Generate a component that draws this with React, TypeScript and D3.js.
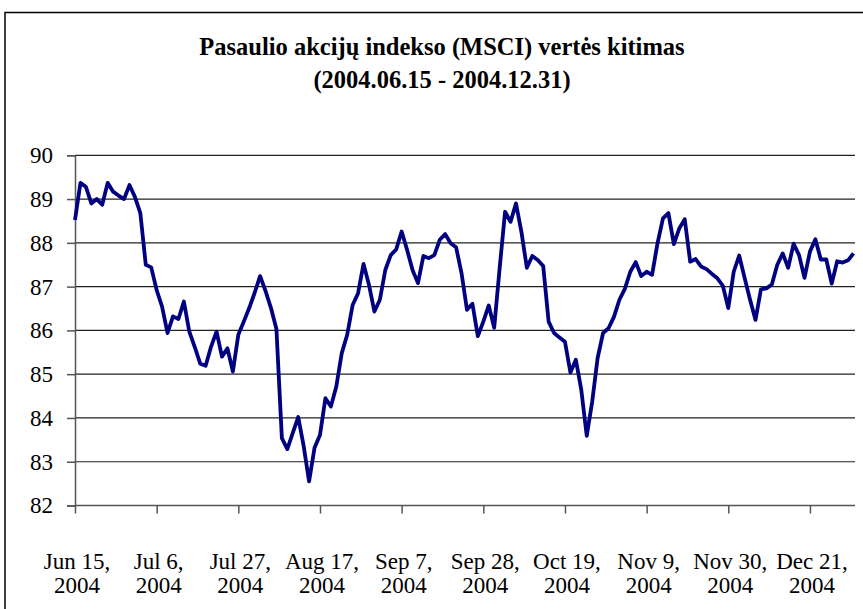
import React, { useRef, useEffect } from "react";
import * as d3 from "d3";

// chart title (two lines)
const titleLines = ["Pasaulio akcijų indekso (MSCI) vertės kitimas", "(2004.06.15 - 2004.12.31)"];

// x axis: one label every 15 trading days, starting at index 0
const tickDates = ["Jun 15,", "Jul 6,", "Jul 27,", "Aug 17,", "Sep 7,", "Sep 28,", "Oct 19,", "Nov 9,", "Nov 30,", "Dec 21,"];
const tickYear = "2004";
const tickStep = 15;

const yTicks = [82, 83, 84, 85, 86, 87, 88, 89, 90];

// daily MSCI index value, 2004-06-15 .. 2004-12-31 (weekdays)
const msciValues = [
  88.52, 89.37, 89.28, 88.90, 89.00, 88.87, 89.37, 89.17, 89.08, 89.00,
  89.32, 89.05, 88.68, 87.50, 87.44, 86.92, 86.54, 85.94, 86.32, 86.26,
  86.66, 85.97, 85.62, 85.24, 85.19, 85.63, 85.97, 85.40, 85.59, 85.06,
  85.90, 86.20, 86.51, 86.86, 87.24, 86.90, 86.51, 86.03, 83.54, 83.29,
  83.66, 84.02, 83.36, 82.55, 83.32, 83.61, 84.45, 84.26, 84.72, 85.48,
  85.90, 86.58, 86.85, 87.52, 87.04, 86.43, 86.70, 87.38, 87.72, 87.85,
  88.26, 87.84, 87.38, 87.08, 87.70, 87.65, 87.72, 88.07, 88.20, 87.99,
  87.90, 87.31, 86.47, 86.61, 85.87, 86.20, 86.57, 86.06, 87.42, 88.71,
  88.48, 88.90, 88.25, 87.43, 87.70, 87.61, 87.47, 86.20, 85.94, 85.84,
  85.74, 85.04, 85.33, 84.64, 83.59, 84.37, 85.37, 85.94, 86.05, 86.31,
  86.70, 86.95, 87.34, 87.56, 87.24, 87.34, 87.27, 87.99, 88.56, 88.68,
  87.97, 88.33, 88.54, 87.57, 87.63, 87.46, 87.40, 87.29, 87.19, 87.02,
  86.51, 87.34, 87.71, 87.20, 86.70, 86.24, 86.94, 86.96, 87.05, 87.50,
  87.76, 87.43, 87.98, 87.72, 87.20, 87.80, 88.08, 87.62, 87.62, 87.07,
  87.58, 87.55, 87.60, 87.76,
];

const width = 863;
const height = 609;
const plot = { left: 75, right: 855, top: 155.3, bottom: 505.5 };
const font = "'Liberation Serif', 'Times New Roman', serif";

const xScale = d3.scaleLinear().domain([0, msciValues.length - 1]).range([plot.left, 853.5]);
const yScale = d3.scaleLinear().domain([82, 90]).range([plot.bottom, plot.top]);

export default function App() {
  const svgRef = useRef<SVGSVGElement>(null);

  useEffect(() => {
    if (!svgRef.current) return;
    const svg = d3.select(svgRef.current);
    svg.selectAll("*").remove();

    svg.append("rect").attr("width", width).attr("height", height).attr("fill", "#fff");

    // outer chart frame (cut off at the right and bottom)
    svg.append("rect").attr("x", 5).attr("y", 12.5).attr("width", 900).attr("height", 700)
      .attr("fill", "none").attr("stroke", "#000").attr("stroke-width", 1.5);

    const title = svg.append("text").attr("font-family", font).attr("font-weight", "bold")
      .attr("font-size", 24.5).attr("text-anchor", "middle").attr("fill", "#000");
    titleLines.forEach((t, i) => {
      title.append("tspan").attr("x", 442).attr("y", 55 + i * 33).text(t);
    });

    // gridlines
    svg.append("g").selectAll("line").data(yTicks.slice(1)).join("line")
      .attr("x1", plot.left).attr("x2", plot.right)
      .attr("y1", d => yScale(d)).attr("y2", d => yScale(d))
      .attr("stroke", "#222").attr("stroke-width", 1.2);

    const yAxis = svg.append("g").attr("transform", `translate(${plot.left},0)`)
      .call(d3.axisLeft(yScale).tickValues(yTicks).tickSize(8).tickPadding(14).tickFormat(d3.format("d")));
    const xTickValues = tickDates.map((_, i) => i * tickStep);
    const xAxis = svg.append("g").attr("transform", `translate(0,${plot.bottom})`)
      .call(d3.axisBottom(xScale).tickValues(xTickValues).tickSize(8).tickFormat(() => ""));
    xAxis.select(".domain").attr("d", `M${plot.left},0H${plot.right}`);

    [yAxis, xAxis].forEach(ax => {
      ax.select(".domain").attr("stroke", "#555").attr("stroke-width", 1.5);
      ax.selectAll(".tick line").attr("stroke", "#555").attr("stroke-width", 1.5);
    });
    yAxis.selectAll("text").attr("font-family", font).attr("font-size", 23).attr("fill", "#000");

    const labels = svg.append("g").attr("font-family", font).attr("font-size", 23)
      .attr("text-anchor", "middle").attr("fill", "#000");
    xTickValues.forEach((v, i) => {
      const t = labels.append("text");
      t.append("tspan").attr("x", xScale(v) + 2).attr("y", 569).text(tickDates[i]);
      t.append("tspan").attr("x", xScale(v) + 2).attr("y", 593).text(tickYear);
    });

    const line = d3.line<number>().x((_, i) => xScale(i)).y(d => yScale(d));
    svg.append("path").attr("d", line(msciValues))
      .attr("fill", "none").attr("stroke", "#000080").attr("stroke-width", 3.8)
      .attr("stroke-linejoin", "round");
  }, []);

  return (
    <svg ref={svgRef} width={width} height={height}
      style={{ position: "absolute", left: 0, top: 0, display: "block" }} />
  );
}
